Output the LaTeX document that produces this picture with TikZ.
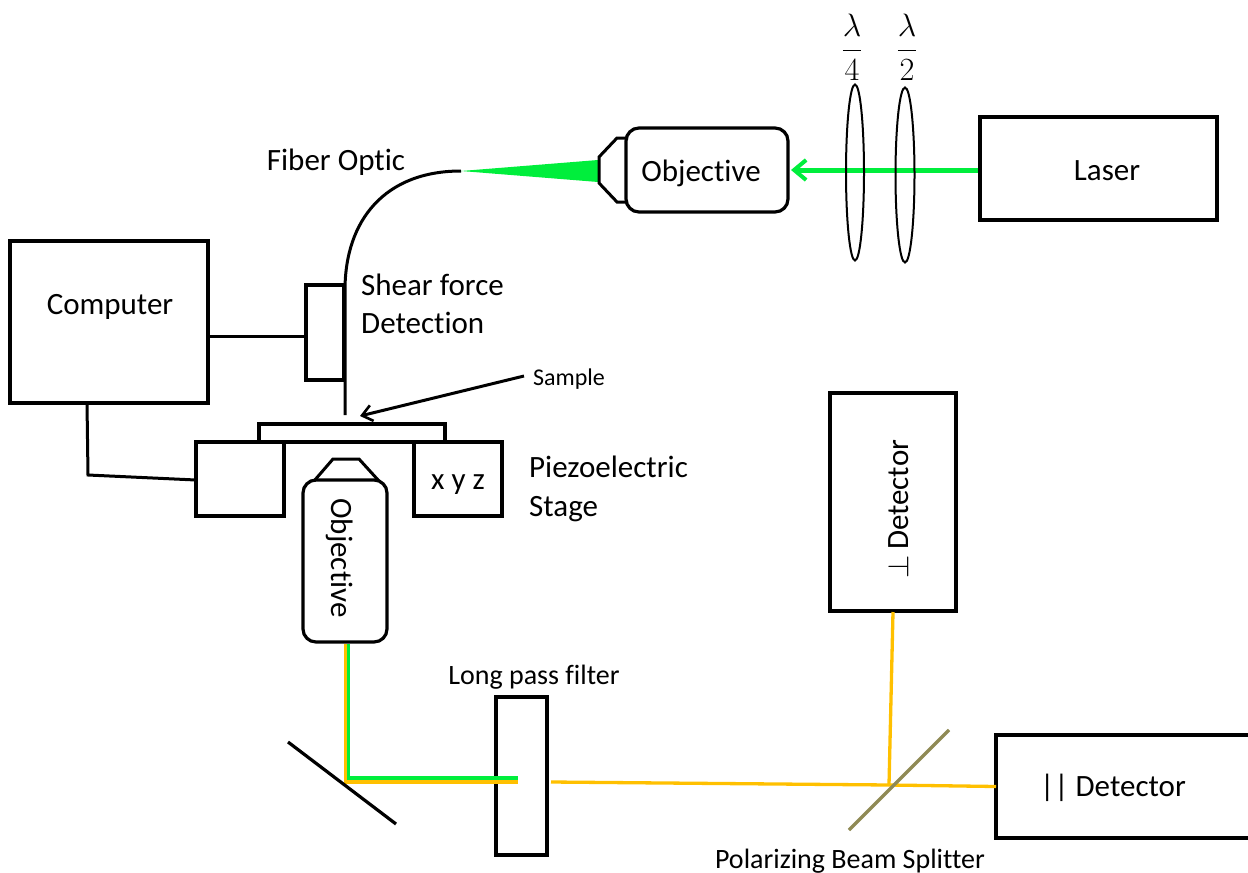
\documentclass[tikz,border=0pt]{standalone}
\usepackage{fontspec}
\setmainfont{Carlito}[Ligatures=NoCommon]
\usetikzlibrary{arrows.meta,shapes.geometric}
\definecolor{beamgreen}{HTML}{00EE3C}
\definecolor{beamorange}{HTML}{FFC000}
\definecolor{splitterolive}{HTML}{8F8A55}
\tikzset{
  boxnode/.style={draw, line width=3.2pt, inner sep=0pt, outer sep=0pt, font=\fontsize{31}{37}\selectfont},
  objnode/.style={boxnode, rounded corners=13pt, minimum width=162pt, minimum height=84pt},
  textnode/.style={inner sep=0pt, font=\fontsize{31}{37}\selectfont},
  midtext/.style={inner sep=0pt, font=\fontsize{28}{34}\selectfont},
  waveplate/.style={draw, line width=2pt, ellipse, inner sep=0pt},
  fraclabel/.style={inner sep=0pt, scale=1.3, font=\fontsize{24}{29}\selectfont},
  wire/.style={line width=3pt},
  greenbeam/.style={draw=beamgreen, line width=3.3pt},
  orangebeam/.style={draw=beamorange, line width=3.3pt}
}
\begin{document}
\begin{tikzpicture}[x=1pt, y=-1pt]
        \useasboundingbox (0,0) rectangle (1248,873);

        % beams
        \coordinate (objtopeast) at (788,170);
        \draw[greenbeam, line width=5pt, -{Straight Barb[length=12pt, width=20pt, line width=4pt]}, shorten >=3pt] (980,170) -- (objtopeast);
        \coordinate (fibertip) at (461,171);
        \coordinate (fiberbend) at (345,290);
        \coordinate (fiberend) at (345,415);
        \fill[beamgreen] (fibertip) -- (598,160) -- (598,182) -- cycle;

        % boxes
        \node[boxnode, minimum width=237pt, minimum height=103pt] (laser) at (1098.5,168.5) {};
        \node[boxnode, minimum width=198pt, minimum height=162pt] (computer) at (109,322) {};
        \node[boxnode, minimum width=38pt, minimum height=95pt] (shear) at (325,332.5) {};
        \node[boxnode, minimum width=186pt, minimum height=18pt] (sample) at (352,433) {};
        \node[boxnode, minimum width=88pt, minimum height=74pt] (stageleft) at (240,479) {};
        \node[boxnode, minimum width=88pt, minimum height=74pt] (stageright) at (458,479) {};
        \node[boxnode, minimum width=51pt, minimum height=158pt] (filter) at (521.5,776) {};
        \node[boxnode, minimum width=126pt, minimum height=218pt] (perpdet) at (893,502) {};
        \node[boxnode, minimum width=254pt, minimum height=103pt] (pardet) at (1123,786.5) {};

        % objectives
        \node[objnode] (objtop) at (707,170) {};
        \node[objnode, rotate=-90] (objside) at (345,561) {};
        \draw[wire] (628,138) -- (617,138) -- (599,157) -- (599,183) -- (617,202) -- (628,202);
        \draw[wire] (314,481) -- (333,459) -- (359,459) -- (379,481);

        % waveplates
        \node[waveplate, minimum width=18pt, minimum height=176pt] (quarter) at (855,172.5) {};
        \node[waveplate, minimum width=19pt, minimum height=175pt] (half) at (905,175) {};
        \node[fraclabel] (quarterlabel) at (852,47) {$\displaystyle\frac{\lambda}{4}$};
        \node[fraclabel] (halflabel) at (907,47) {$\displaystyle\frac{\lambda}{2}$};

        % fiber
        \draw[wire] (fibertip) .. controls (385,171) and (345,220) .. (fiberbend) -- (fiberend);

        % wires
        \coordinate (shearin) at (306,336);
        \coordinate (stagein) at (196,480);
        \draw[wire] (computer.east |- shearin) -- (shearin);
        \draw[wire] (87,403) -- (88,475) -- (stagein);
        \coordinate (sampletail) at (524,376);
        \draw[wire, -{Straight Barb[length=10pt, width=16pt, line width=2.6pt]}] (sampletail) -- (360,416);

        % collection path
        \coordinate (foldgreen) at (348.5,778);
        \coordinate (foldorange) at (345.5,782);
        \coordinate (splitpoint) at (889,785);
        \draw[orangebeam] (345.5,644) -- (foldorange) -- (518,782);
        \draw[greenbeam] (348.5,644) -- (foldgreen) -- (518,778);
        \draw[orangebeam] (551,782) -- (splitpoint);
        \draw[orangebeam] (splitpoint) -- (893,612);
        \draw[orangebeam] (splitpoint) -- (pardet.west);
        \coordinate (mirrorup) at (288,742);
        \coordinate (mirrordown) at (396,824);
        \draw[wire, line width=3.2pt] (mirrorup) -- (mirrordown);
        \coordinate (splitup) at (949,730);
        \coordinate (splitdown) at (849,830);
        \draw[draw=splitterolive, line width=3.5pt] (splitdown) -- (splitup);

        % labels
        \node[textnode] (laserlabel) at (1107,170.5) {Laser};
        \node[textnode] (computerlabel) at (110,307) {Computer};
        \node[textnode] (stagelabel) at (458,485) {x y z};
        \node[textnode] (objtoplabel) at (701,173) {Objective};
        \node[textnode, rotate=-90] (objsidelabel) at (340,558) {Objective};
        \node[textnode] (pardetlabel) at (1113,788) {|| Detector};
        \node[textnode, rotate=90] (perplabel) at (898,509) {\scalebox{1.2}{$\perp$}\hspace{-2pt} Detector};
        \node[textnode] (fiberlabel) at (336,162) {Fiber Optic};
        \node[textnode, anchor=west] (shearone) at (361,285) {Shear force};
        \node[textnode, anchor=west] (sheartwo) at (361,323) {Detection};
        \node[textnode, anchor=west] (piezoone) at (529,467) {Piezoelectric};
        \node[textnode, anchor=west] (piezotwo) at (529,509) {Stage};
        \node[inner sep=0pt, font=\fontsize{24}{29}\selectfont] (samplelabel) at (569,379) {Sample};
        \node[midtext] (filterlabel) at (534,677) {Long pass filter};
        \node[midtext] (splitterlabel) at (850,861) {Polarizing Beam Splitter};
    \end{tikzpicture}
\end{document}
